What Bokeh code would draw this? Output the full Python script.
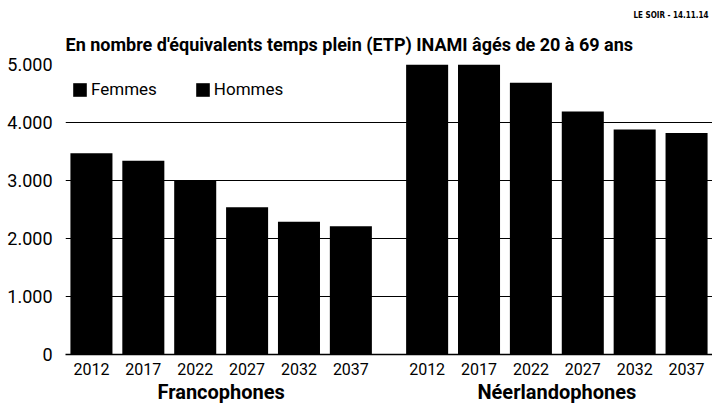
from bokeh.plotting import figure
from bokeh.models import (FactorRange, Range1d, FixedTicker, Legend, LegendItem,
                          Title, ColumnDataSource)
from bokeh.embed import file_html
from bokeh.resources import INLINE

groups = ["Francophones", "Néerlandophones"]
years = ["2012", "2017", "2022", "2027", "2032", "2037"]
fr_values = [3470, 3340, 2990, 2540, 2290, 2210]
nl_values = [5100, 5150, 4685, 4190, 3880, 3820]
y_ticks = [0, 1000, 2000, 3000, 4000, 5000]
y_tick_labels = ["0", "1.000", "2.000", "3.000", "4.000", "5.000"]
legend_labels = ["Femmes", "Hommes"]
title_text = "En nombre d'équivalents temps plein (ETP) INAMI âgés de 20 à 69 ans"
source_text = "LE SOIR - 14.11.14"

FONT = "Roboto"

factors = [(g, y) for g in groups for y in years]
values = fr_values + nl_values
src = ColumnDataSource(dict(x=factors, top=values))

p = figure(x_range=FactorRange(*factors, group_padding=0.47),
           y_range=Range1d(0, 5000),
           width=712, height=406, output_backend="svg", toolbar_location=None,
           min_border_left=65, min_border_right=0, min_border_top=64,
           min_border_bottom=51)

r = p.vbar(x="x", top="top", width=0.81, source=src,
           fill_color="black", line_color=None)

legend = Legend(items=[LegendItem(label=legend_labels[0], renderers=[r]),
                       LegendItem(label=legend_labels[1], renderers=[r])],
                orientation="horizontal", location=(6, 255),
                padding=0, margin=0, spacing=37, label_standoff=3,
                glyph_width=17, glyph_height=17, label_height=17,
                label_text_font=FONT, label_text_font_size="17px",
                label_text_color="black",
                background_fill_alpha=0, border_line_color=None)
p.add_layout(legend)

p.outline_line_color = None
p.background_fill_color = "white"
p.border_fill_color = "white"

p.yaxis.ticker = FixedTicker(ticks=y_ticks)
p.yaxis.major_label_overrides = {t: l for t, l in zip(y_ticks, y_tick_labels)}
p.yaxis.axis_line_color = None
p.yaxis.major_tick_line_color = None
p.yaxis.minor_tick_line_color = None
p.yaxis.major_label_standoff = 7
p.yaxis.major_label_text_font = FONT
p.yaxis.major_label_text_font_size = "18px"
p.yaxis.major_label_text_color = "black"

p.ygrid.ticker = FixedTicker(ticks=y_ticks)
p.ygrid.grid_line_color = "black"
p.ygrid.grid_line_width = 1
p.xgrid.grid_line_color = None

p.xaxis.axis_line_color = "black"
p.xaxis.axis_line_width = 1.5
p.xaxis.major_tick_line_color = None
p.xaxis.minor_tick_line_color = None
p.xaxis.separator_line_color = None
p.xaxis.major_label_standoff = 2
p.xaxis.major_label_text_font = FONT
p.xaxis.major_label_text_font_size = "16px"
p.xaxis.major_label_text_color = "black"
p.xaxis.group_text_font = FONT
p.xaxis.group_text_font_size = "20px"
p.xaxis.group_text_font_style = "bold"
p.xaxis.group_text_color = "black"

p.title.text = source_text
p.title.align = "right"
p.title.offset = 4
p.title.text_font = "DejaVu Sans Condensed"
p.title.text_font_size = "8px"
p.title.text_font_style = "bold"
p.title.text_color = "black"
p.title.standoff = 9

# spacer between the frame and the main title
p.add_layout(Title(text=" ", text_font_size="1px", standoff=0), "above")
p.add_layout(Title(text=title_text, align="left",
                   text_font=FONT, text_font_size="18px",
                   text_font_style="bold", text_color="black", standoff=14),
             "above")

open("out.html", "w").write(file_html(p, INLINE))
